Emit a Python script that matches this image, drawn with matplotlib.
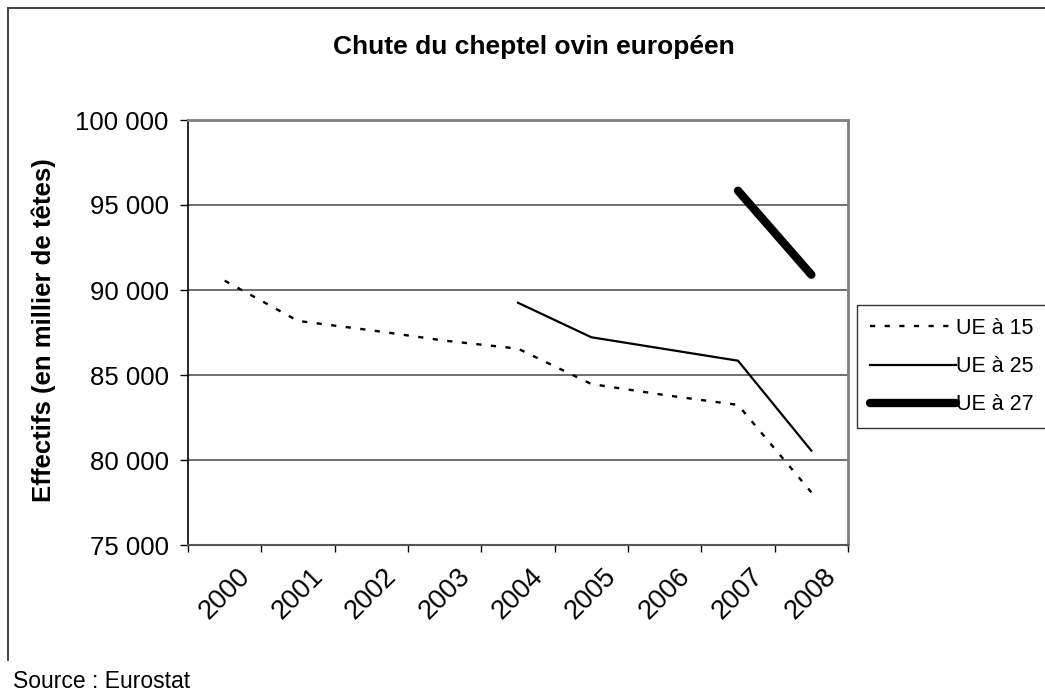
import numpy as np
import matplotlib.pyplot as plt
from matplotlib.lines import Line2D
from matplotlib.ticker import FuncFormatter, FixedLocator

plt.rcParams['font.family'] = ['Liberation Sans', 'DejaVu Sans']

years = ['2000', '2001', '2002', '2003', '2004', '2005', '2006', '2007', '2008']

# effectifs en milliers de têtes (None = pas de donnée)
ue15 = [90550, 88180, 87630, 87020, 86550, 84470, 83820, 83240, 78100]
ue25 = [None, None, None, None, 89250, 87220, 86530, 85840, 80550]
ue27 = [None, None, None, None, None, None, None, 95840, 90900]

def to_arr(vals):
    return np.array([np.nan if v is None else v for v in vals], dtype=float)

W, H = 1045, 695
fig = plt.figure(figsize=(W / 100, H / 100), dpi=100)
ax = fig.add_axes([188 / W, 1 - 545 / H, (848 - 188) / W, (545 - 120) / H])

x = np.arange(len(years))
ax.plot(x, to_arr(ue15), color='black', lw=1.7, linestyle=(0, (2.2, 4.0)), label='UE à 15')
ax.plot(x, to_arr(ue25), color='black', lw=1.6, label='UE à 25')
ax.plot(x, to_arr(ue27), color='black', lw=6, solid_capstyle='round', label='UE à 27')

ax.set_xlim(-0.5, len(years) - 0.5)
ax.set_ylim(75000, 100000)
ax.set_yticks(np.arange(75000, 100001, 5000))
ax.yaxis.set_major_formatter(FuncFormatter(lambda v, p: '{:,.0f}'.format(v).replace(',', ' ')))
ax.tick_params(axis='y', direction='out', length=6, width=1, labelsize=18.5, pad=8, color='black')

ax.set_xticks(x)
ax.set_xticklabels(years, rotation=45, ha='center', fontsize=19.5)
ax.xaxis.set_minor_locator(FixedLocator(np.arange(-0.5, len(years), 1.0)))
ax.tick_params(axis='x', which='major', length=0, pad=13)
ax.tick_params(axis='x', which='minor', direction='out', length=5, width=1, color='black')

ax.grid(axis='y', color='#555555', lw=1.2)
ax.set_axisbelow(True)
for s in ['top', 'right']:
    ax.spines[s].set_color('#808080')
    ax.spines[s].set_linewidth(2)
ax.spines['left'].set_color('black')
ax.spines['bottom'].set_color('#555555')
ax.spines['left'].set_linewidth(1.2)
ax.spines['bottom'].set_linewidth(1.5)

fig.text(534 / W, 1 - 47 / H, 'Chute du cheptel ovin européen', fontsize=19,
         fontweight='bold', ha='center', va='center')
fig.text(44 / W, 1 - 330 / H, 'Effectifs (en millier de têtes)', fontsize=18.5,
         fontweight='bold', rotation=90, ha='center', va='center')
fig.text(13 / W, 1 - 681 / H, 'Source : Eurostat', fontsize=16.5, ha='left', va='center')

# cadre du graphique (coupé à droite et en bas)
fig.add_artist(Line2D([8 / W, 8 / W], [1 - 660 / H, 1 - 8 / H], color='#333333', lw=1.3))
fig.add_artist(Line2D([8 / W, 1.0], [1 - 8 / H, 1 - 8 / H], color='#333333', lw=1.3))

leg = fig.legend(loc='upper left', bbox_to_anchor=(857 / W, 1 - 305 / H), fontsize=15.5,
                 frameon=True, fancybox=False, edgecolor='black', handlelength=4,
                 handletextpad=0.02, labelspacing=0.8, borderpad=0.6, borderaxespad=0)
leg.get_frame().set_linewidth(1)

fig.savefig('out.png', dpi=100)
